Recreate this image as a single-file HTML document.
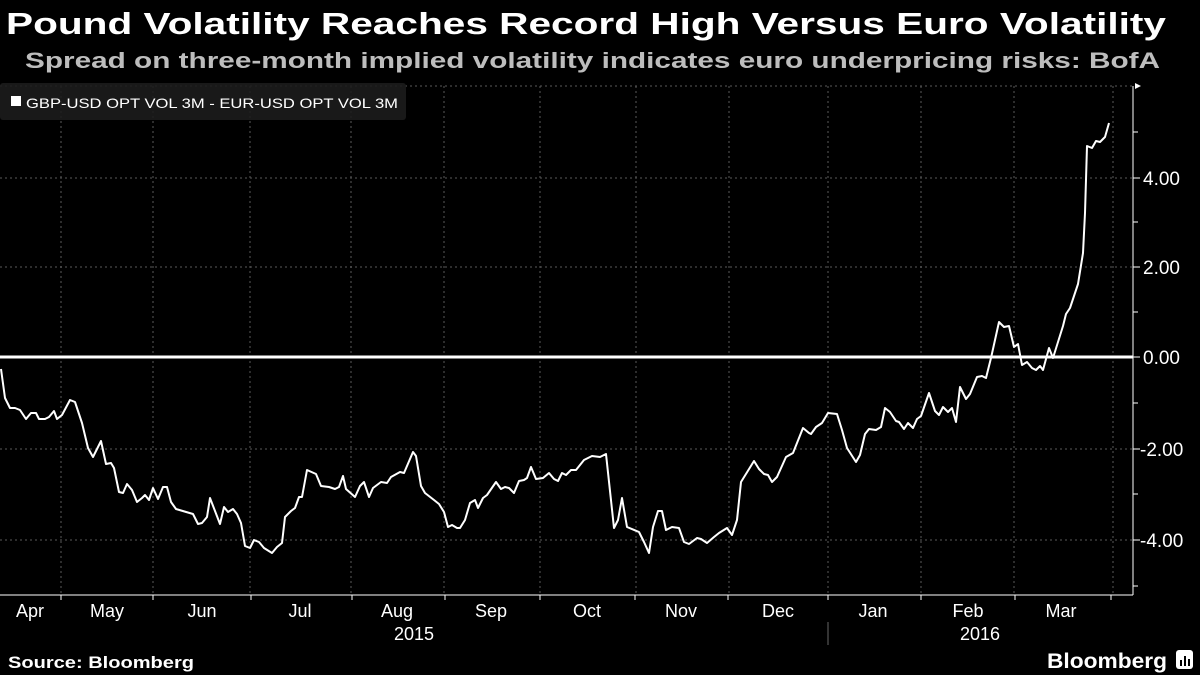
<!DOCTYPE html>
<html><head><meta charset="utf-8"><style>
html,body{margin:0;padding:0;background:#000;}
svg{display:block;}
text{font-family:"Liberation Sans",sans-serif;}
</style></head><body>
<svg width="1200" height="675" viewBox="0 0 1200 675" xmlns="http://www.w3.org/2000/svg">
<rect width="1200" height="675" fill="#000"/>
<text x="6" y="34" fill="#fff" font-size="31" font-weight="bold" textLength="1160" lengthAdjust="spacingAndGlyphs">Pound Volatility Reaches Record High Versus Euro Volatility</text>
<text x="25" y="68" fill="#bdbdbd" font-size="22" font-weight="bold" textLength="1135" lengthAdjust="spacingAndGlyphs">Spread on three-month implied volatility indicates euro underpricing risks: BofA</text>
<g stroke="#5a5a5a" stroke-width="1" stroke-dasharray="2,3">
<line x1="0" y1="86" x2="1133" y2="86"/>
<line x1="0" y1="178" x2="1133" y2="178"/>
<line x1="0" y1="267" x2="1133" y2="267"/>
<line x1="0" y1="449" x2="1133" y2="449"/>
<line x1="0" y1="540" x2="1133" y2="540"/>
<line x1="61" y1="86" x2="61" y2="595"/>
<line x1="153" y1="86" x2="153" y2="595"/>
<line x1="250" y1="86" x2="250" y2="595"/>
<line x1="351" y1="86" x2="351" y2="595"/>
<line x1="444" y1="86" x2="444" y2="595"/>
<line x1="540" y1="86" x2="540" y2="595"/>
<line x1="636" y1="86" x2="636" y2="595"/>
<line x1="729" y1="86" x2="729" y2="595"/>
<line x1="828" y1="86" x2="828" y2="595"/>
<line x1="921" y1="86" x2="921" y2="595"/>
<line x1="1014" y1="86" x2="1014" y2="595"/>
<line x1="1113" y1="86" x2="1113" y2="595"/>
</g>
<rect x="0" y="83" width="406" height="37" rx="3" fill="#1c1c1c" fill-opacity="0.9"/>
<rect x="11" y="96" width="10" height="10" fill="#fff"/>
<text x="26" y="108" fill="#fff" font-size="14" textLength="372" lengthAdjust="spacingAndGlyphs">GBP-USD OPT VOL 3M - EUR-USD OPT VOL 3M</text>
<line x1="0" y1="357" x2="1133" y2="357" stroke="#fff" stroke-width="3"/>
<polyline fill="none" stroke="#fff" stroke-width="2" stroke-linejoin="round" points="1,369 5,398 10,408 15,408 20,410 26,419 31,413 36,413 39,419 45,419 49,417 54,411 57,419 62,415 70,400 75,402 82,423 88,448 93,457 101,441 106,464 111,463 114,468 119,492 123,493 127,484 132,490 137,502 142,498 145,495 149,500 153,488 158,499 163,487 167,487 171,502 176,509 193,514 198,524 202,523 207,517 210,498 220,524 224,507 228,512 233,509 237,514 241,523 245,546 250,548 254,540 259,542 264,548 272,553 277,547 282,543 285,517 291,511 295,508 299,497 302,497 307,470 316,474 321,486 329,487 335,489 339,487 343,476 346,489 355,497 360,486 364,482 369,497 373,488 381,482 387,483 391,477 400,472 404,473 413,452 416,456 421,486 425,493 434,500 439,504 444,512 448,527 452,525 457,528 460,528 465,520 470,503 475,500 478,508 483,498 487,495 496,482 501,489 505,487 509,488 514,493 519,481 524,480 527,478 531,467 536,479 543,478 549,473 554,479 558,481 562,473 566,475 571,470 576,470 584,460 592,456 600,457 606,454 614,528 618,520 622,498 627,527 639,532 644,542 649,553 653,527 658,511 662,511 666,530 672,527 679,528 684,542 689,544 697,538 701,539 707,543 714,537 719,533 727,528 732,535 737,520 741,482 754,461 759,469 764,474 768,475 772,482 777,477 786,457 793,453 797,443 803,428 809,433 811,434 816,427 822,423 828,413 837,414 842,430 847,448 856,462 860,455 865,434 869,429 876,430 881,427 885,408 890,412 896,421 899,422 904,429 908,423 913,428 917,419 921,416 929,393 935,411 939,415 943,407 948,412 952,408 956,422 960,387 966,399 970,394 977,377 982,376 986,378 991,358 999,322 1004,327 1009,326 1014,347 1018,344 1022,365 1027,362 1032,368 1036,370 1040,366 1043,370 1049,348 1053,358 1058,342 1063,326 1066,314 1070,308 1078,284 1083,253 1085,213 1087,146 1092,148 1096,141 1100,142 1105,137 1109,123"/>
<g stroke="#fff" stroke-width="1">
<line x1="1133" y1="86" x2="1133" y2="595"/>
<line x1="0" y1="595" x2="1133" y2="595"/>
<line x1="1133" y1="132" x2="1138" y2="132"/>
<line x1="1133" y1="178" x2="1140" y2="178"/>
<line x1="1133" y1="222" x2="1138" y2="222"/>
<line x1="1133" y1="267" x2="1140" y2="267"/>
<line x1="1133" y1="312" x2="1138" y2="312"/>
<line x1="1133" y1="357" x2="1140" y2="357"/>
<line x1="1133" y1="403" x2="1138" y2="403"/>
<line x1="1133" y1="449" x2="1140" y2="449"/>
<line x1="1133" y1="494" x2="1138" y2="494"/>
<line x1="1133" y1="540" x2="1140" y2="540"/>
<line x1="1133" y1="586" x2="1138" y2="586"/>
<line x1="61" y1="595" x2="61" y2="600"/>
<line x1="153" y1="595" x2="153" y2="600"/>
<line x1="251" y1="595" x2="251" y2="600"/>
<line x1="352" y1="595" x2="352" y2="600"/>
<line x1="445" y1="595" x2="445" y2="600"/>
<line x1="540" y1="595" x2="540" y2="600"/>
<line x1="635" y1="595" x2="635" y2="600"/>
<line x1="728" y1="595" x2="728" y2="600"/>
<line x1="828" y1="595" x2="828" y2="600"/>
<line x1="921" y1="595" x2="921" y2="600"/>
<line x1="1015" y1="595" x2="1015" y2="600"/>
<line x1="1111" y1="595" x2="1111" y2="600"/>
</g>
<polygon points="1135,83 1141,86 1135,89" fill="#fff"/>
<line x1="828" y1="622" x2="828" y2="645" stroke="#666" stroke-width="1"/>
<g fill="#fff" font-size="19">
<text x="1143" y="185">4.00</text>
<text x="1143" y="274">2.00</text>
<text x="1143" y="364">0.00</text>
<text x="1140" y="456">-2.00</text>
<text x="1140" y="547">-4.00</text>
</g>
<g fill="#fff" font-size="18" text-anchor="middle">
<text x="30" y="617">Apr</text>
<text x="107" y="617">May</text>
<text x="202" y="617">Jun</text>
<text x="300" y="617">Jul</text>
<text x="397" y="617">Aug</text>
<text x="491" y="617">Sep</text>
<text x="587" y="617">Oct</text>
<text x="681" y="617">Nov</text>
<text x="778" y="617">Dec</text>
<text x="873" y="617">Jan</text>
<text x="968" y="617">Feb</text>
<text x="1061" y="617">Mar</text>
<text x="414" y="640">2015</text>
<text x="980" y="640">2016</text>
</g>
<text x="8" y="668" fill="#fff" font-size="17" font-weight="bold" textLength="186" lengthAdjust="spacingAndGlyphs">Source: Bloomberg</text>
<text x="1047" y="668" fill="#fff" font-size="21" font-weight="bold" textLength="120" lengthAdjust="spacingAndGlyphs">Bloomberg</text>
<rect x="1176" y="650" width="17" height="19" rx="3" fill="#fff"/>
<rect x="1180" y="660" width="2" height="6" fill="#000"/>
<rect x="1184" y="656" width="2" height="10" fill="#000"/>
<rect x="1188" y="659" width="2" height="7" fill="#000"/>
</svg>
</body></html>
